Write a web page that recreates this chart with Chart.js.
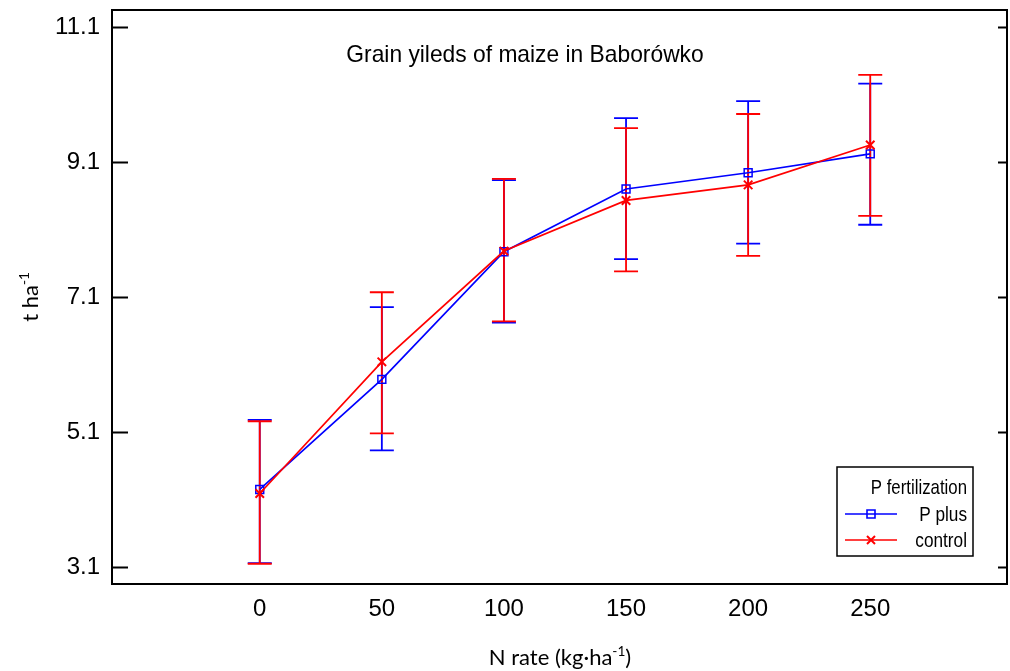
<!DOCTYPE html>
<html>
<head>
<meta charset="utf-8">
<script src="https://cdn.jsdelivr.net/npm/chart.js@4/dist/chart.umd.min.js"></script>
<style>
  html, body { margin: 0; padding: 0; background: #ffffff; }
  #wrap { width: 1010px; height: 671px; position: relative; }
</style>
</head>
<body>
<div id="wrap"><canvas id="c" width="1010" height="671"></canvas></div>
<script>
// ---- data ----
const nRates = [0, 50, 100, 150, 200, 250];
const xTicks = [0, 50, 100, 150, 200, 250];
const yTicks = [3.1, 5.1, 7.1, 9.1, 11.1];

const pPlus     = [4.25, 5.88, 7.77, 8.70, 8.94, 9.22];
const pPlusLow  = [3.16, 4.83, 6.72, 7.66, 7.89, 8.17];
const pPlusHigh = [5.28, 6.95, 8.83, 9.75, 10.00, 10.26];

const control     = [4.19, 6.14, 7.78, 8.53, 8.76, 9.35];
const controlLow  = [3.15, 5.08, 6.74, 7.48, 7.71, 8.30];
const controlHigh = [5.26, 7.17, 8.85, 9.60, 9.81, 10.39];

const chartTitle = 'Grain yileds of maize in Baborówko';
const legendTitle = 'P fertilization';
const seriesNames = ['P plus', 'control'];

const BLUE = 'rgb(0,0,255)';
const RED = 'rgb(255,0,0)';
const SANS = '"Liberation Sans", Arial, sans-serif';
const CAL = 'Lato, "Open Sans", sans-serif';

function pts(ys) { return nRates.map((x, i) => ({ x: x, y: ys[i] })); }

const errSets = [
  { low: pPlusLow, high: pPlusHigh, color: BLUE },
  { low: controlLow, high: controlHigh, color: RED }
];

function drawRich(ctx, parts, x, y, size, family) {
  let total = 0;
  const widths = parts.map(p => {
    ctx.font = (p.sup ? size * 0.62 : size) + 'px ' + family;
    const w = ctx.measureText(p.t).width;
    total += w;
    return w;
  });
  let cx = x - total / 2;
  ctx.textAlign = 'left';
  ctx.textBaseline = 'alphabetic';
  parts.forEach((p, i) => {
    ctx.font = (p.sup ? size * 0.62 : size) + 'px ' + family;
    ctx.fillText(p.t, cx, y + size * 0.35 - (p.sup ? size * 0.4 : 0));
    cx += widths[i];
  });
}

function condensedText(ctx, text, x, y, size, sx, align) {
  ctx.save();
  ctx.translate(x, y);
  ctx.scale(sx, 1);
  ctx.font = size + 'px ' + SANS;
  ctx.textAlign = align;
  ctx.textBaseline = 'middle';
  ctx.fillText(text, 0, 0);
  ctx.restore();
}

const decor = {
  id: 'decor',
  beforeDatasetsDraw(chart) {
    const ctx = chart.ctx;
    const xs = chart.scales.x, ys = chart.scales.y;
    ctx.save();
    errSets.forEach(s => {
      ctx.strokeStyle = s.color;
      ctx.lineWidth = 1.8;
      nRates.forEach((n, i) => {
        const px = xs.getPixelForValue(n);
        const yl = ys.getPixelForValue(s.low[i]);
        const yh = ys.getPixelForValue(s.high[i]);
        ctx.beginPath();
        ctx.moveTo(px, yl); ctx.lineTo(px, yh);
        ctx.moveTo(px - 12, yl); ctx.lineTo(px + 12, yl);
        ctx.moveTo(px - 12, yh); ctx.lineTo(px + 12, yh);
        ctx.stroke();
      });
    });
    ctx.restore();
  },
  afterDraw(chart) {
    const ctx = chart.ctx;
    const a = chart.chartArea;
    const ys = chart.scales.y;
    ctx.save();
    // frame
    ctx.strokeStyle = '#000';
    ctx.lineWidth = 2;
    ctx.strokeRect(a.left, a.top, a.right - a.left, a.bottom - a.top);
    // inward ticks on left and right
    yTicks.forEach(v => {
      const py = Math.round(ys.getPixelForValue(v)) + 0.5;
      ctx.beginPath();
      ctx.moveTo(a.left, py); ctx.lineTo(a.left + 16, py);
      ctx.moveTo(a.right, py); ctx.lineTo(a.right - 9, py);
      ctx.stroke();
    });
    // title
    ctx.fillStyle = '#000';
    condensedText(ctx, chartTitle, 525, 55, 24, 0.95, 'center');
    // axis titles
    ctx.fillStyle = '#000';
    drawRich(ctx, [{ t: 'N rate (kg·ha' }, { t: '-1', sup: true }, { t: ')' }], 560, 657, 22, CAL);
    ctx.save();
    ctx.translate(30, (a.top + a.bottom) / 2);
    ctx.rotate(-Math.PI / 2);
    drawRich(ctx, [{ t: 't ha' }, { t: '-1', sup: true }], 0, 0, 22, CAL);
    ctx.restore();
    // legend
    ctx.lineWidth = 1.5;
    ctx.strokeStyle = '#000';
    ctx.strokeRect(837, 467, 136, 89);
    ctx.fillStyle = '#000';
    condensedText(ctx, legendTitle, 967, 488, 21, 0.8, 'right');
    const rows = [
      { y: 514, color: BLUE, style: 'rect', name: seriesNames[0] },
      { y: 540, color: RED, style: 'cross', name: seriesNames[1] }
    ];
    rows.forEach(r => {
      ctx.strokeStyle = r.color;
      ctx.lineWidth = 1.6;
      ctx.beginPath();
      ctx.moveTo(845, r.y); ctx.lineTo(897, r.y);
      ctx.stroke();
      ctx.beginPath();
      if (r.style === 'rect') {
        ctx.rect(867, r.y - 4, 8, 8);
      } else {
        ctx.lineWidth = 2;
        ctx.moveTo(867, r.y - 4); ctx.lineTo(875, r.y + 4);
        ctx.moveTo(875, r.y - 4); ctx.lineTo(867, r.y + 4);
      }
      ctx.stroke();
      ctx.fillStyle = '#000';
      condensedText(ctx, r.name, 967, r.y + 1, 21, 0.82, 'right');
    });
    ctx.restore();
  }
};

new Chart(document.getElementById('c'), {
  type: 'line',
  data: {
    datasets: [
      {
        label: seriesNames[0],
        data: pts(pPlus),
        borderColor: BLUE,
        backgroundColor: 'rgba(0,0,0,0)',
        borderWidth: 1.7,
        pointStyle: 'rect',
        pointRadius: 5.6,
        pointBorderWidth: 1.5,
        pointBorderColor: BLUE,
        pointBackgroundColor: 'rgba(0,0,0,0)',
        order: 1
      },
      {
        label: seriesNames[1],
        data: pts(control),
        borderColor: RED,
        backgroundColor: 'rgba(0,0,0,0)',
        borderWidth: 1.7,
        pointStyle: 'crossRot',
        pointRadius: 6,
        pointBorderWidth: 2,
        pointBorderColor: RED,
        order: 0
      }
    ]
  },
  options: {
    responsive: false,
    animation: false,
    layout: { autoPadding: false, padding: { left: 0, right: 3, top: 10, bottom: 0 } },
    plugins: { legend: { display: false }, title: { display: false }, tooltip: { enabled: false } },
    scales: {
      x: {
        type: 'linear',
        min: -60.5,
        max: 306,
        afterBuildTicks: s => { s.ticks = xTicks.map(v => ({ value: v })); },
        afterFit: s => { s.height = 87; s.paddingLeft = 0; s.paddingRight = 0; s.paddingTop = 0; s.paddingBottom = 0; },
        grid: { display: false, drawTicks: false },
        border: { display: false },
        ticks: { color: '#000', font: { family: SANS, size: 24 }, padding: 11, maxRotation: 0, callback: v => String(v) }
      },
      y: {
        type: 'linear',
        min: 2.85,
        max: 11.35,
        afterBuildTicks: s => { s.ticks = yTicks.map(v => ({ value: v })); },
        afterFit: s => { s.width = 112; s.paddingLeft = 0; s.paddingRight = 0; s.paddingTop = 0; s.paddingBottom = 0; },
        grid: { display: false, drawTicks: false },
        border: { display: false },
        ticks: { color: '#000', font: { family: SANS, size: 24 }, padding: 12, callback: v => Number(v).toFixed(1) }
      }
    }
  },
  plugins: [decor]
});
</script>
</body>
</html>
